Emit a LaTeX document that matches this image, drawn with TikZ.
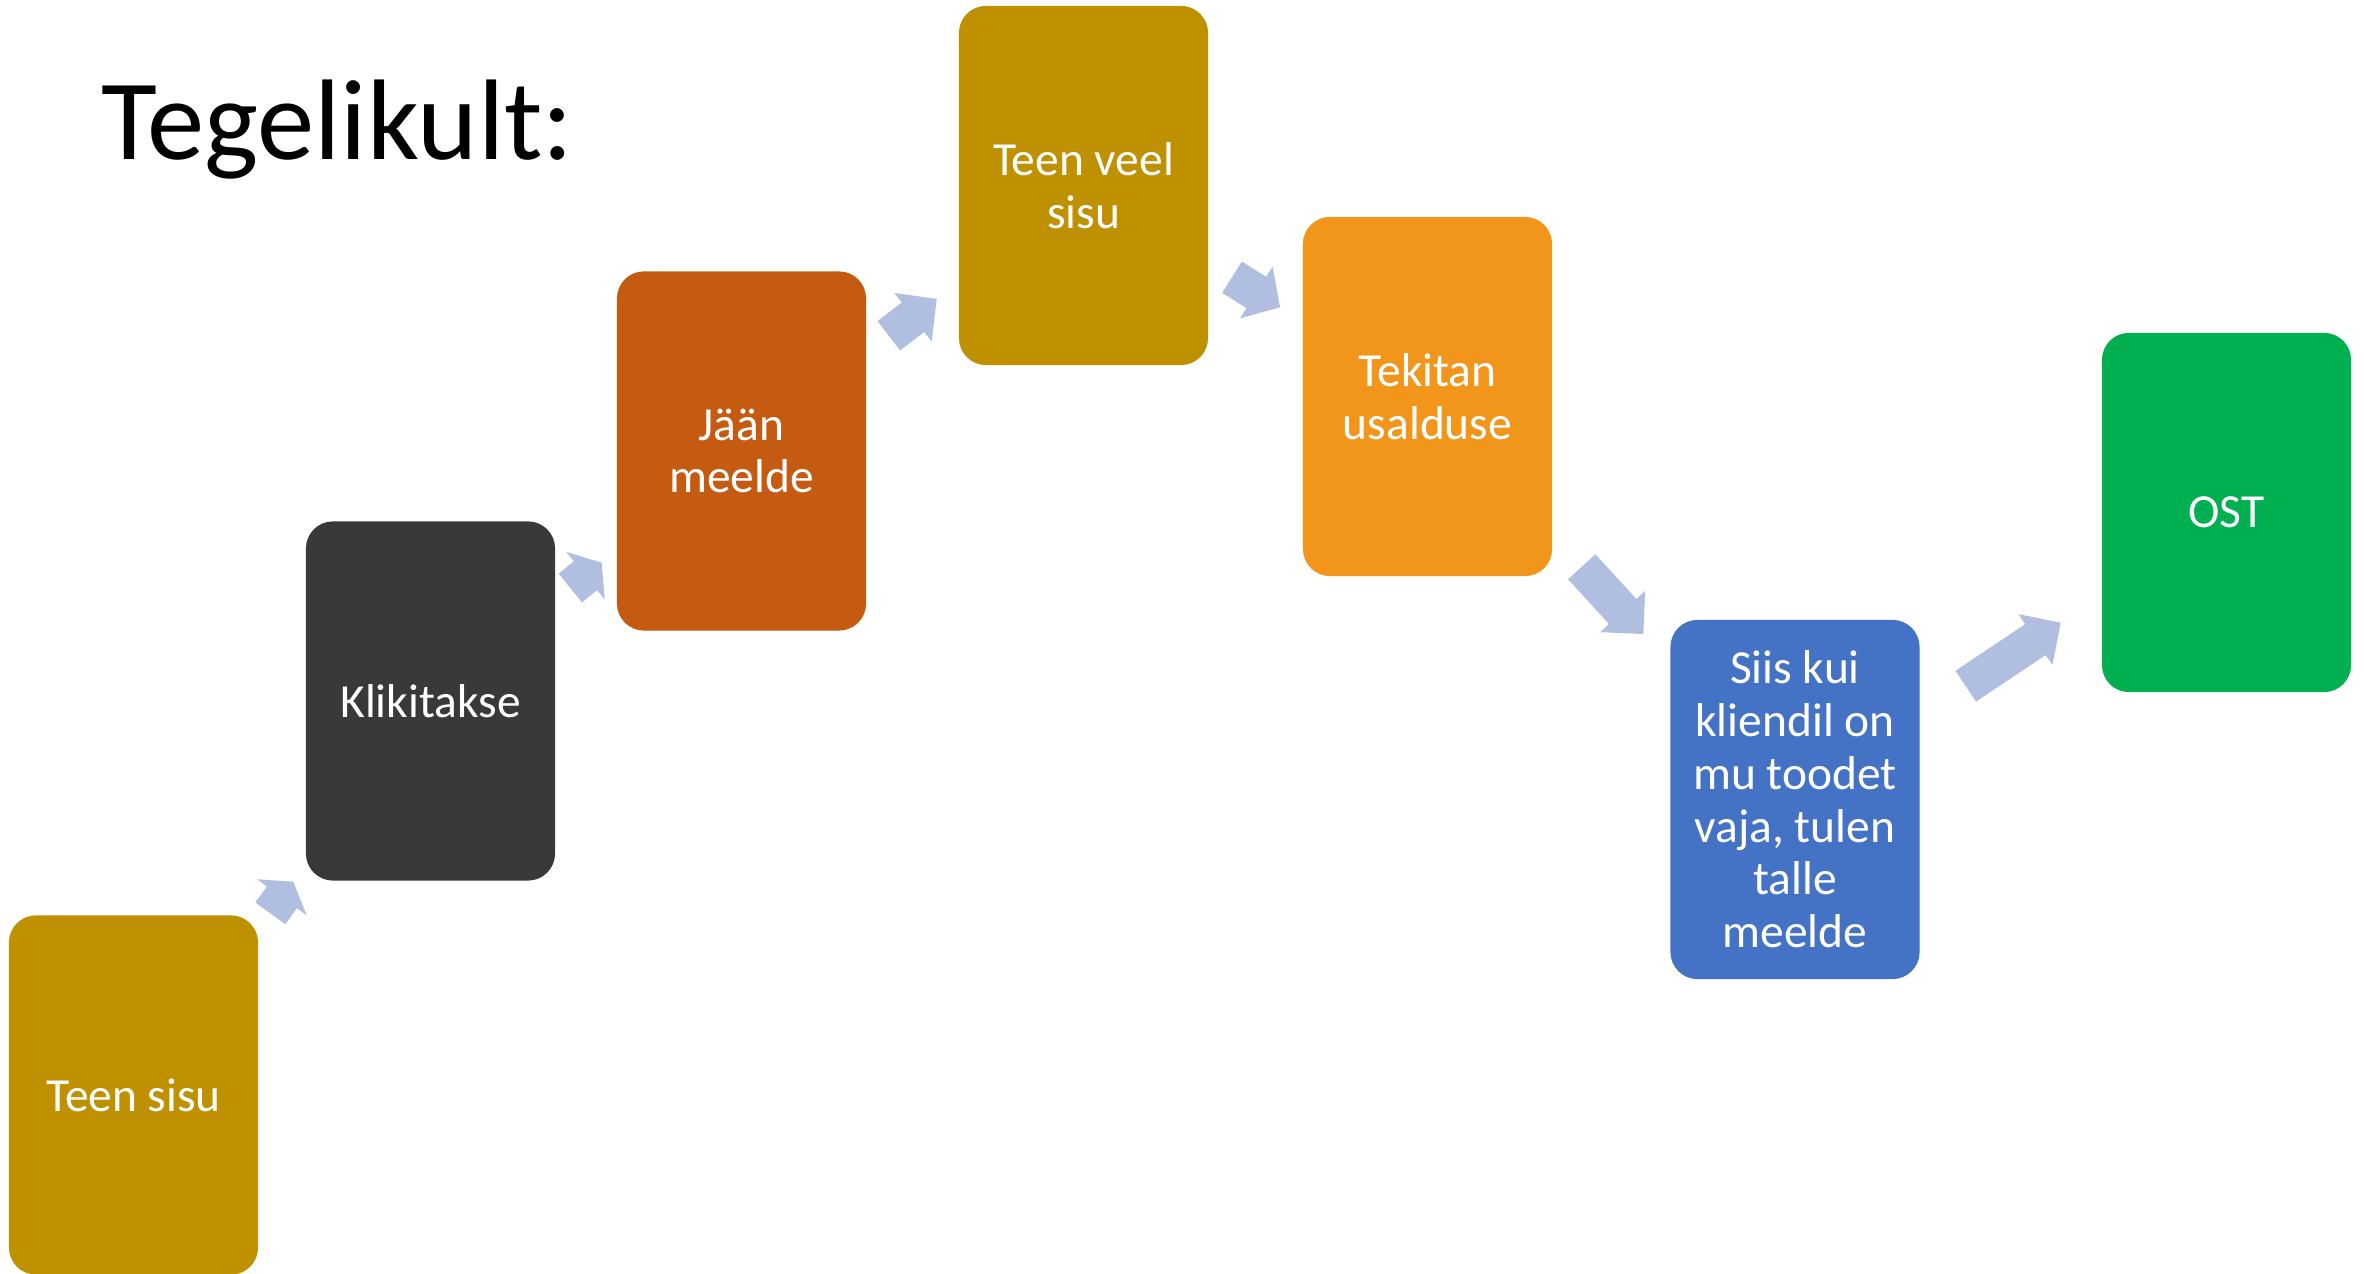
\documentclass[tikz,border=0pt]{standalone}
\usepackage{fontspec}
\setmainfont{Carlito}
\usepackage{tikz}
\usetikzlibrary{calc,positioning}
\definecolor{goldcol}{HTML}{BF9000}
\definecolor{darkcol}{HTML}{3B3838}
\definecolor{rustcol}{HTML}{C55A11}
\definecolor{orangecol}{HTML}{F2951B}
\definecolor{bluecol}{HTML}{4472C4}
\definecolor{greencol}{HTML}{00B050}
\definecolor{arrowcol}{HTML}{B0BEE0}

% block arrow from tail to tip, third argument is the head length
\newcommand{\procarrow}[3]{%
  \coordinate (hb) at ($(#2)!#3!(#1)$);
  \fill[arrowcol] ($(#1)!0.185cm!90:(#2)$) -- ($(hb)!0.185cm!90:(#2)$) -- ($(hb)!0.306cm!90:(#2)$)
    -- (#2) -- ($(hb)!0.306cm!-90:(#2)$) -- ($(hb)!0.185cm!-90:(#2)$) -- ($(#1)!0.185cm!-90:(#2)$) -- cycle;}

\begin{document}
\begin{tikzpicture}[x=0.01cm,y=-0.01cm,
  stepbox/.style={rectangle, rounded corners=0.27cm, minimum width=2.49cm, minimum height=3.59cm,
    inner sep=0pt, text=white, align=center, font=\fontsize{13.5}{15}\selectfont}]
\clip (0,0) rectangle (2364,1274);
\fill[white] (0,0) rectangle (2364,1274);

\node[anchor=base west, inner sep=0pt, font=\fontsize{32.6}{38}\selectfont] (title) at (101,160) {Tegelikult:};

\node[stepbox, fill=goldcol] (teen) at (133.5,1095) {Teen sisu};
\node[stepbox, fill=darkcol] (klik) at (430.5,701) {Klikitakse};
\node[stepbox, fill=rustcol] (jaan) at (741.5,451) {Jään\\meelde};
\node[stepbox, fill=goldcol] (veel) at (1083.5,185.5) {Teen veel\\sisu};
\node[stepbox, fill=orangecol] (usal) at (1427.5,396.5) {Tekitan\\usalduse};
\node[stepbox, fill=bluecol] (siis) at (1795,799.5) {Siis kui\\kliendil on\\mu toodet\\vaja, tulen\\talle\\meelde};
\node[stepbox, fill=greencol] (ost) at (2226.5,512.5) {OST};

% arrow ends
\coordinate (a1s) at (270.3,913.3);  \coordinate (a1e) at (293.3,881.7);
\coordinate (a2s) at (570.3,588);    \coordinate (a2e) at (601.7,562.7);
\coordinate (a3s) at (888.8,335.8);  \coordinate (a3e) at (936.7,299);
\coordinate (a4s) at (1232,277.2);   \coordinate (a4e) at (1280,307.3);
\coordinate (a5s) at (1581.7,566.8); \coordinate (a5e) at (1643.3,634);
\coordinate (a6s) at (1965.7,686.2); \coordinate (a6e) at (2060.7,622.7);

\procarrow{a1s}{a1e}{0.193cm}
\procarrow{a2s}{a2e}{0.208cm}
\procarrow{a3s}{a3e}{0.299cm}
\procarrow{a4s}{a4e}{0.28cm}
\procarrow{a5s}{a5e}{0.305cm}
\procarrow{a6s}{a6e}{0.304cm}
\end{tikzpicture}
\end{document}
